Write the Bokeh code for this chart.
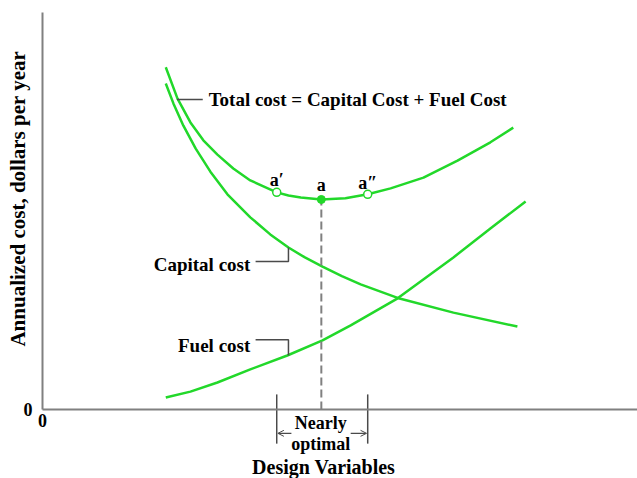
import numpy as np
from bokeh.plotting import figure
from bokeh.models import Label, Arrow, OpenHead, FixedTicker, Range1d
from bokeh.embed import file_html
from bokeh.resources import INLINE

# Design variable values (arbitrary units) and annualized costs
total_x = [2.10, 2.30, 2.52, 2.74, 2.98, 3.25, 3.54, 3.99, 4.19, 4.40, 4.75, 5.16, 5.54, 5.93, 6.49, 7.07, 7.63, 8.02]
total_y = [8.62, 7.83, 7.23, 6.78, 6.42, 6.07, 5.77, 5.47, 5.39, 5.34, 5.29, 5.32, 5.42, 5.57, 5.84, 6.27, 6.73, 7.10]

capital_x = [2.10, 2.23, 2.40, 2.61, 2.86, 3.15, 3.54, 3.88, 4.19, 4.47, 4.77, 5.10, 5.42, 6.05, 7.00, 8.09]
capital_y = [8.21, 7.71, 7.15, 6.57, 5.99, 5.42, 4.84, 4.41, 4.08, 3.83, 3.60, 3.36, 3.15, 2.81, 2.44, 2.09]

fuel_x = [2.10, 2.52, 2.98, 3.54, 4.17, 4.77, 5.25, 6.05, 7.00, 7.63, 8.23]
fuel_y = [0.30, 0.45, 0.68, 1.01, 1.36, 1.74, 2.12, 2.80, 3.83, 4.56, 5.24]

optimum_x = [4.75]
optimum_y = [5.29]
near_x = [3.99, 5.54]
near_y = [5.47, 5.42]
point_labels = ["a\u2032", "a", "a\u2033"]
axis_ticks = [0]

GREEN = "#22d82a"
GRAY = "#808080"
DARK = "#4a4a4a"
FONT = "Liberation Serif"

p = figure(width=637, height=478, output_backend="svg", toolbar_location=None,
           x_range=Range1d(-0.7155, 10.136), y_range=Range1d(-1.738, 10.302),
           min_border=0, min_border_left=0, min_border_right=0, min_border_top=0, min_border_bottom=0)
p.outline_line_color = None
p.xgrid.visible = False
p.ygrid.visible = False
p.background_fill_color = "white"
p.border_fill_color = "white"

for ax in (p.xaxis[0], p.yaxis[0]):
    ax.fixed_location = 0
    ax.ticker = FixedTicker(ticks=axis_ticks)
    ax.axis_line_color = GRAY
    ax.axis_line_width = 2
    ax.major_tick_line_color = None
    ax.minor_tick_line_color = None
    ax.major_tick_out = 0
    ax.major_tick_in = 0
    ax.major_label_text_font = FONT
    ax.major_label_text_font_style = "bold"
    ax.major_label_text_font_size = "18px"
    ax.major_label_text_color = "black"
p.xaxis[0].bounds = (0, 10.136)
p.yaxis[0].bounds = (0, 10.0)
p.xaxis[0].major_label_standoff = 5
p.yaxis[0].major_label_standoff = 10

# curves
p.line(total_x, total_y, line_color=GREEN, line_width=2.5)
p.line(capital_x, capital_y, line_color=GREEN, line_width=2.5)
p.line(fuel_x, fuel_y, line_color=GREEN, line_width=2.5)

# dashed line at optimum
p.line([optimum_x[0], optimum_x[0]], [0, optimum_y[0]], line_color=GRAY, line_width=2, line_dash="8 4")

# markers
p.scatter(near_x, near_y, size=8, marker="circle", fill_color="white", line_color=GREEN, line_width=1.5)
p.scatter(optimum_x, optimum_y, size=8, marker="circle", fill_color=GREEN, line_color=GREEN)

def lab(x, y, t, size="19px", align="left", angle=0.0):
    p.add_layout(Label(x=x, y=y, text=t, text_font=FONT, text_font_style="bold",
                       text_font_size=size, text_align=align, text_baseline="middle",
                       text_color="black", angle=angle))

pts_x = [near_x[0], optimum_x[0], near_x[1]]
pts_y = [near_y[0], optimum_y[0], near_y[1]]
offs = [0.30, 0.36, 0.28]
for lx, ly, txt, o in zip(pts_x, pts_y, point_labels, offs):
    lab(lx, ly + o, txt, size="18px", align="center")

# leader lines
p.line([2.29, 2.73], [7.81, 7.81], line_color=DARK, line_width=1.5)
p.line([3.63, 4.19, 4.19], [3.73, 3.73, 4.08], line_color=DARK, line_width=1.5)
p.line([3.63, 4.19, 4.19], [1.76, 1.76, 1.36], line_color=DARK, line_width=1.5)

lab(2.83, 7.81, "Total cost = Capital Cost + Fuel Cost")
lab(3.54, 3.65, "Capital cost", align="right")
lab(3.54, 1.61, "Fuel cost", align="right")

# nearly optimal bracket (below the axis)
p.segment(x0=near_x, y0=[0.38, 0.38], x1=near_x, y1=[-0.86, -0.86], line_color=DARK, line_width=1.5)
p.add_layout(Arrow(x_start=4.24, y_start=-0.60, x_end=near_x[0] + 0.02, y_end=-0.60,
                   end=OpenHead(size=6, line_color=DARK, line_width=1), line_color=DARK, line_width=1.2))
p.add_layout(Arrow(x_start=5.25, y_start=-0.60, x_end=near_x[1] - 0.02, y_end=-0.60,
                   end=OpenHead(size=6, line_color=DARK, line_width=1), line_color=DARK, line_width=1.2))
lab(4.74, -0.35, "Nearly", size="18px", align="center")
lab(4.74, -0.86, "optimal", size="18px", align="center")

# axis titles
lab(4.79, -1.46, "Design Variables", size="20px", align="center")
lab(-0.41, 5.31, "Annualized cost, dollars per year", size="21px", align="center", angle=np.pi / 2)

open("out.html", "w").write(file_html(p, INLINE))
